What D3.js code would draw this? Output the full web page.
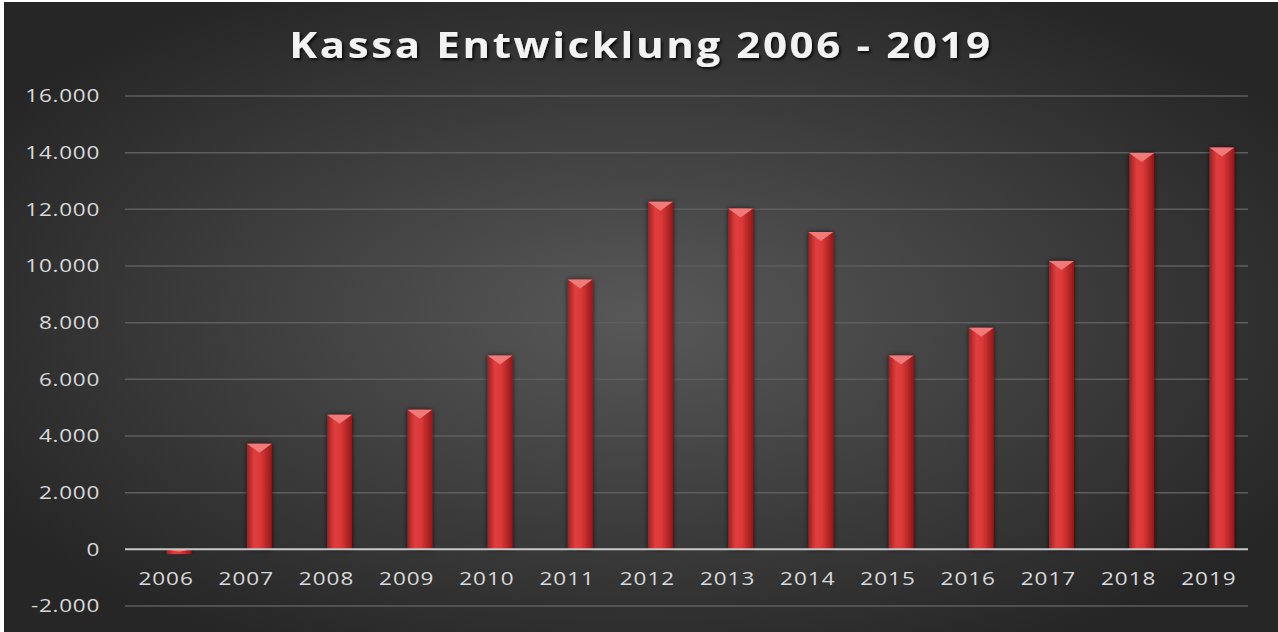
<!DOCTYPE html>
<html>
<head>
<meta charset="utf-8">
<script src="https://cdn.jsdelivr.net/npm/d3@7"></script>
<style>
  body { margin: 0; background: #fff; }
  svg { display: block; }
</style>
</head>
<body>
<svg id="chart" width="1278" height="632"></svg>
<script>
// data
const years = ["2006", "2007", "2008", "2009", "2010", "2011", "2012", "2013", "2014", "2015", "2016", "2017", "2018", "2019"]
const kassa = [-170, 3730, 4750, 4930, 6840, 9520, 12270, 12030, 11200, 6840, 7820, 10180, 13990, 14180]
const yTicks = [-2000, 0, 2000, 4000, 6000, 8000, 10000, 12000, 14000, 16000]

const svg = d3.select("#chart")
const W = 1278, H = 632
const margin = {left: 125, right: 30, top: 96, bottom: 26}
const stretch = 1.25  // the source picture is a bit wider than tall
const barShift = 14   // 3d-style bars sit a bit right of the category centre

const defs = svg.append("defs")

// background: dark radial gradient, lighter in the middle
const bg = defs.append("radialGradient").attr("id", "bg")
    .attr("cx", "50%").attr("cy", "50%").attr("r", "60%")
bg.append("stop").attr("offset", "0%").attr("stop-color", "#585858")
bg.append("stop").attr("offset", "100%").attr("stop-color", "#262626")

// bars: horizontal red gradient
const barGrad = defs.append("linearGradient").attr("id", "bar")
    .attr("x1", "0%").attr("x2", "100%")
barGrad.append("stop").attr("offset", "0%").attr("stop-color", "#a21e1e")
barGrad.append("stop").attr("offset", "30%").attr("stop-color", "#e03e3e")
barGrad.append("stop").attr("offset", "55%").attr("stop-color", "#dc3838")
barGrad.append("stop").attr("offset", "100%").attr("stop-color", "#921a1a")

const shadow = defs.append("filter").attr("id", "shadow")
    .attr("x", "-50%").attr("y", "-10%").attr("width", "200%").attr("height", "120%")
shadow.append("feDropShadow").attr("dx", 0).attr("dy", 0).attr("stdDeviation", 2.5)
    .attr("flood-color", "#000").attr("flood-opacity", 0.7)

const titleShadow = defs.append("filter").attr("id", "tshadow")
titleShadow.append("feDropShadow").attr("dx", 1.5).attr("dy", 2).attr("stdDeviation", 1.5)
    .attr("flood-color", "#000").attr("flood-opacity", 0.8)

svg.append("rect").attr("x", 4).attr("y", 2).attr("width", W - 4).attr("height", H - 2)
    .attr("fill", "url(#bg)")

const x = d3.scaleBand().domain(years)
    .range([margin.left, W - margin.right]).paddingInner(0.69).paddingOuter(0.345)

const y = d3.scaleLinear().domain([-2000, 16000])
    .range([606, 96])

// gridlines
svg.append("g").selectAll("line").data(yTicks.filter(d => d !== 0)).join("line")
    .attr("x1", margin.left).attr("x2", W - margin.right)
    .attr("y1", d => y(d)).attr("y2", d => y(d))
    .attr("stroke", "#5e5e5e").attr("stroke-width", 1.5)

// y labels
const fmt = d3.formatLocale({decimal: ",", thousands: ".", grouping: [3], currency: ["", "€"]}).format(",")
svg.append("g").selectAll("text").data(yTicks).join("text")
    .attr("transform", d => `translate(100,${y(d)}) scale(${stretch},1)`)
    .attr("dy", "0.35em")
    .attr("text-anchor", "end")
    .attr("font-family", "'Open Sans', sans-serif").attr("font-size", 18)
    .attr("letter-spacing", 0.6)
    .attr("fill", "#d9d9d9")
    .text(d => d === 0 ? "0" : fmt(d).replace("−", "-"))

// bars
const bars = svg.append("g").selectAll("g").data(years.map((yr, i) => ({yr, v: kassa[i]}))).join("g")
    .attr("transform", `translate(${barShift},0)`)
bars.append("rect")
    .attr("x", d => x(d.yr)).attr("width", x.bandwidth())
    .attr("y", d => y(Math.max(0, d.v)))
    .attr("height", d => Math.abs(y(d.v) - y(0)))
    .attr("fill", "url(#bar)")
    .attr("filter", "url(#shadow)")
bars.append("path")
    .attr("d", d => {
        const x0 = x(d.yr), x1 = x0 + x.bandwidth(), t = y(Math.max(0, d.v))
        const depth = d.v < 0 ? Math.abs(y(d.v) - y(0)) * 0.5 : 9
        return `M${x0},${t}L${x1},${t}L${x0 + x.bandwidth() / 2},${t + depth}Z`
    })
    .attr("fill", "#f07a7a")

// zero line
svg.append("line")
    .attr("x1", margin.left).attr("x2", W - margin.right)
    .attr("y1", y(0)).attr("y2", y(0))
    .attr("stroke", "#c8c8c8").attr("stroke-width", 2)

// x labels
svg.append("g").selectAll("text").data(years).join("text")
    .attr("transform", d => `translate(${x(d) + x.bandwidth() / 2 + 1},585) scale(${stretch},1)`)
    .attr("text-anchor", "middle")
    .attr("font-family", "'Open Sans', sans-serif").attr("font-size", 18)
    .attr("letter-spacing", 0.8)
    .attr("fill", "#d9d9d9")
    .text(d => d)

// title
svg.append("text")
    .attr("transform", `translate(641,58) scale(1.2,1)`)
    .attr("text-anchor", "middle")
    .attr("font-family", "'Open Sans', sans-serif").attr("font-weight", "bold")
    .attr("font-size", 35).attr("letter-spacing", 2.2)
    .attr("fill", "#f2f2f2").attr("filter", "url(#tshadow)")
    .text("Kassa Entwicklung 2006 - 2019")
</script>
</body>
</html>
